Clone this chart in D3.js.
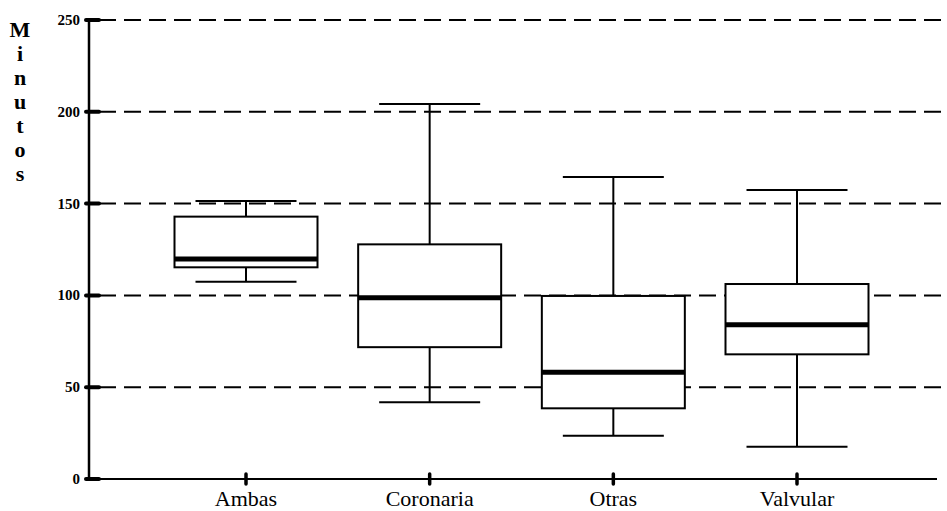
<!DOCTYPE html>
<html>
<head>
<meta charset="utf-8">
<script src="https://cdn.jsdelivr.net/npm/d3@7"></script>
<style>
  html, body { margin: 0; padding: 0; background: #fff; }
  svg { display: block; }
</style>
</head>
<body>
<svg id="chart" width="947" height="511"></svg>
<script>
// Surgery time (minutes) by intervention type
const categories = ["Ambas", "Coronaria", "Otras", "Valvular"];
const whiskerLow  = [107.5, 41.8, 23.6, 17.6];
const q1          = [115.3, 71.8, 38.5, 67.9];
const median      = [119.8, 98.7, 58.1, 84.0];
const q3          = [142.9, 127.8, 99.7, 106.2];
const whiskerHigh = [151.4, 204.2, 164.5, 157.4];
const yTicks = [0, 50, 100, 150, 200, 250];
const yTitle = "Minutos";

const rows = categories.map((c, i) => ({
  cat: c, lo: whiskerLow[i], q1: q1[i], med: median[i], q3: q3[i], hi: whiskerHigh[i]
}));

const FONT = "'Liberation Serif', 'DejaVu Serif', 'Times New Roman', serif";

const svg = d3.select("#chart").attr("font-family", FONT);
const W = 947;
const axisLeft = 89, axisRight = 937, plotTop = 20, plotBottom = 479;

const y = d3.scaleLinear().domain([0, 250]).range([plotBottom, plotTop]);
const x = d3.scalePoint().domain(categories).range([246, 797]);

const boxW = 143, capW = 101;

// dashed gridlines
svg.append("g").selectAll("line").data(yTicks.filter(d => d > 0)).join("line")
  .attr("x1", axisLeft + 10).attr("x2", W)
  .attr("y1", d => y(d)).attr("y2", d => y(d))
  .attr("stroke", "#000").attr("stroke-width", 2)
  .attr("stroke-dasharray", "17,8");

// boxes
const g = svg.append("g").selectAll("g").data(rows).join("g");

g.append("line")
  .attr("x1", d => x(d.cat)).attr("x2", d => x(d.cat))
  .attr("y1", d => y(d.hi)).attr("y2", d => y(d.q3))
  .attr("stroke", "#000").attr("stroke-width", 2);
g.append("line")
  .attr("x1", d => x(d.cat)).attr("x2", d => x(d.cat))
  .attr("y1", d => y(d.q1)).attr("y2", d => y(d.lo))
  .attr("stroke", "#000").attr("stroke-width", 2);
g.append("line")
  .attr("x1", d => x(d.cat) - capW / 2).attr("x2", d => x(d.cat) + capW / 2)
  .attr("y1", d => y(d.hi)).attr("y2", d => y(d.hi))
  .attr("stroke", "#000").attr("stroke-width", 2);
g.append("line")
  .attr("x1", d => x(d.cat) - capW / 2).attr("x2", d => x(d.cat) + capW / 2)
  .attr("y1", d => y(d.lo)).attr("y2", d => y(d.lo))
  .attr("stroke", "#000").attr("stroke-width", 2);
g.append("rect")
  .attr("x", d => x(d.cat) - boxW / 2).attr("width", boxW)
  .attr("y", d => y(d.q3)).attr("height", d => y(d.q1) - y(d.q3))
  .attr("fill", "#fff").attr("stroke", "#000").attr("stroke-width", 2);
g.append("line")
  .attr("x1", d => x(d.cat) - boxW / 2).attr("x2", d => x(d.cat) + boxW / 2)
  .attr("y1", d => y(d.med)).attr("y2", d => y(d.med))
  .attr("stroke", "#000").attr("stroke-width", 5);

// y axis
const yAxis = svg.append("g");
yAxis.append("line")
  .attr("x1", axisLeft).attr("x2", axisLeft)
  .attr("y1", y(250) - 2).attr("y2", y(0))
  .attr("stroke", "#000").attr("stroke-width", 2.5);
yAxis.selectAll("line.tk").data(yTicks).join("line").attr("class", "tk")
  .attr("x1", axisLeft - 3).attr("x2", axisLeft + 10)
  .attr("y1", d => y(d)).attr("y2", d => y(d))
  .attr("stroke", "#000").attr("stroke-width", 4).attr("stroke-linecap", "round");
yAxis.selectAll("text").data(yTicks).join("text")
  .attr("x", axisLeft - 9).attr("y", d => y(d) + 5)
  .attr("text-anchor", "end")
  .attr("font-family", FONT)
  .attr("font-size", 15).attr("font-weight", "bold")
  .text(d => d);

// x axis
const xAxis = svg.append("g");
xAxis.append("line")
  .attr("x1", axisLeft).attr("x2", axisRight)
  .attr("y1", y(0)).attr("y2", y(0))
  .attr("stroke", "#000").attr("stroke-width", 2);
xAxis.selectAll("line.tk").data(categories).join("line").attr("class", "tk")
  .attr("x1", d => x(d)).attr("x2", d => x(d))
  .attr("y1", y(0) - 5).attr("y2", y(0) + 5)
  .attr("stroke", "#000").attr("stroke-width", 3.5).attr("stroke-linecap", "round");
xAxis.selectAll("text").data(categories).join("text")
  .attr("x", d => x(d)).attr("y", 506)
  .attr("text-anchor", "middle")
  .attr("font-family", FONT)
  .attr("font-size", 22)
  .text(d => d);

// vertical stacked title
svg.append("g").selectAll("text").data(yTitle.split("")).join("text")
  .attr("x", 20).attr("y", (d, i) => 37 + i * 24)
  .attr("text-anchor", "middle")
  .attr("font-family", FONT)
  .attr("font-size", 22).attr("font-weight", "bold")
  .text(d => d);
</script>
</body>
</html>
